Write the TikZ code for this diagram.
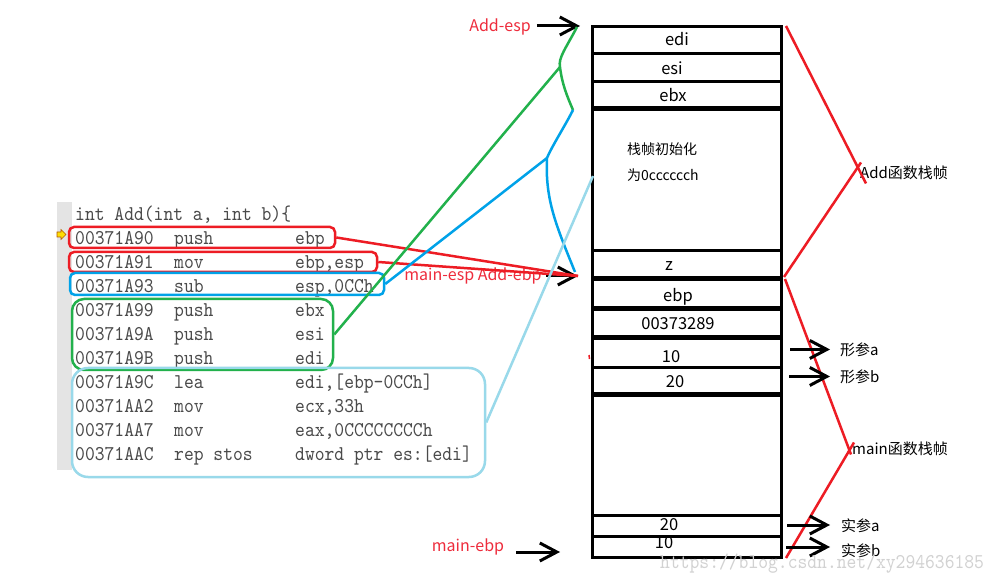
\documentclass[tikz,border=0pt]{standalone}
\usepackage{fontspec}
\newfontfamily\cjk{Noto Sans CJK SC}
\newfontfamily\codefont[Extension=.otf,FakeStretch=0.89]{lmmono10-regular}
\usetikzlibrary{arrows.meta}
\definecolor{myred}{HTML}{ED1C24}
\definecolor{annred}{HTML}{EE2C3C}
\definecolor{mygreen}{HTML}{22B14C}
\definecolor{myblue}{HTML}{00A2E8}
\definecolor{lblue}{HTML}{99D9EA}
\definecolor{codegray}{HTML}{4A4A4A}
\definecolor{bargray}{HTML}{E4E4E4}
\tikzset{
  codetxt/.style={font=\codefont\fontsize{21}{21}\selectfont, text=codegray, anchor=base west, inner sep=0pt},
  stk/.style={font=\cjk\fontsize{16.5}{16.5}\selectfont, anchor=mid, inner sep=0pt},
  lbl/.style={font=\cjk\fontsize{15}{15}\selectfont, anchor=mid west, inner sep=0pt},
  ann/.style={font=\cjk\fontsize{16}{16}\selectfont, text=annred, anchor=mid, inner sep=0pt},
  cell/.style={draw, line width=3pt, inner sep=0pt, minimum width=189pt, anchor=north west},
  hbox/.style={draw, line width=2.5pt, rounded corners=5pt, inner sep=0pt},
  barrow/.style={draw, line width=3pt, -{Straight Barb[length=17pt,width=18pt]}},
  redline/.style={draw=myred, line width=2.5pt},
}
\begin{document}
\begin{tikzpicture}[x=1pt,y=-1pt]
\useasboundingbox[fill=white] (0,0) rectangle (999,585);

% gutter bar and marker
\fill[bargray] (57,202) rectangle (72,470);
\fill[yellow!80!orange, draw=orange!70!black, line width=0.6pt]
  (57,232) -- (61,232) -- (61,229.5) -- (66,234.5) -- (61,239.5) -- (61,237) -- (57,237) -- cycle;

% code listing
\node[codetxt] (hdr) at (75,220.4) {int Add(int a, int b)\{};
\foreach \i/\yy/\a/\m/\o in {
 1/238/00371A90/push/ebp,
 2/262/00371A91/mov/{ebp,esp},
 3/286/00371A93/sub/{esp,0CCh},
 4/310/00371A99/push/ebx,
 5/334/00371A9A/push/esi,
 6/358/00371A9B/push/edi,
 7/382/00371A9C/lea/{edi,[ebp-0CCh]},
 8/406/00371AA2/mov/{ecx,33h},
 9/430/00371AA7/mov/{eax,0CCCCCCCCh},
 10/454/00371AAC/rep stos/{dword ptr es:[edi]}} {
  \node[codetxt] (ad\i) at (75,\yy+6.4) {\a};
  \node[codetxt] (mn\i) at (174,\yy+6.4) {\m};
  \node[codetxt] (op\i) at (295,\yy+6.4) {\o};
}

% highlight boxes
\node[hbox, draw=myred, minimum width=266pt, minimum height=21pt] (b1) at (202,237.5) {};
\node[hbox, draw=myred, minimum width=308pt, minimum height=20pt] (b2) at (223,262) {};
\node[hbox, draw=myblue, minimum width=314pt, minimum height=22pt] (b3) at (227,284) {};
\node[hbox, draw=mygreen, rounded corners=12pt, minimum width=261pt, minimum height=71pt] (b4) at (202.5,334.5) {};
\node[hbox, draw=lblue, rounded corners=16pt, minimum width=413pt, minimum height=109pt] (b5) at (278.5,422.5) {};

% stack
\node[cell, minimum height=27pt] (c1) at (591,25) {};
\node[cell, minimum height=28pt] (c2) at (591,52) {};
\node[cell, minimum height=28pt] (c3) at (591,80) {};
\node[cell, minimum height=141pt] (c4) at (591,108) {};
\node[cell, minimum height=29pt] (c5) at (591,249) {};
\node[cell, minimum height=30pt] (c6) at (591,278) {};
\node[cell, minimum height=29pt] (c7) at (591,308) {};
\node[cell, minimum height=29pt] (c8) at (591,337) {};
\node[cell, minimum height=28pt] (c9) at (591,366) {};
\node[cell, minimum height=120pt] (c10) at (591,394) {};
\node[cell, minimum height=21pt] (c11) at (591,514) {};
\node[cell, minimum height=21pt] (c12) at (591,535) {};
\foreach \c in {c4,c6,c7,c8,c10}{
  \draw[line width=4.5pt] (\c.north west) -- (\c.north east);
}

\node[stk] (t1) at (677,43) {edi};
\node[stk] (t2) at (672,72) {esi};
\node[stk] (t3) at (673,99) {ebx};
\node[font=\cjk\fontsize{14}{14}\selectfont, anchor=mid west, inner sep=0pt] (t4a) at (627,152) {栈帧初始化};
\node[font=\cjk\fontsize{14}{14}\selectfont, anchor=mid west, inner sep=0pt] (t4b) at (627,178) {为0cccccch};
\node[stk] (t5) at (669,268) {z};
\node[stk] (t6) at (678,299) {ebp};
\node[stk] (t7) at (678,327) {00373289};
\node[stk] (t8) at (671,360) {10};
\node[stk] (t9) at (675,385) {20};
\node[stk] (t11) at (669,528) {20};
\node[stk] (t12) at (664,546) {10};
\draw[myred, line width=1.5pt] (589,355) -- (589.5,359);

% pointer annotations
\node[ann] (aesp) at (500,29) {Add-esp};
\node[ann] (mesp) at (473,278) {main-esp Add-ebp};
\node[ann] (mebp) at (468,549) {main-ebp};
\coordinate (aespT) at (580,26);
\coordinate (mespT) at (578,276);
\coordinate (mebpT) at (560,552);
\draw[barrow] ([xshift=6pt]aesp.east |- aespT) -- (aespT);
\draw[barrow] ([xshift=4pt]mesp.east |- mespT) -- (mespT);
\draw[barrow] (mebp.east |- mebpT) ++(12,0) -- (mebpT);

% code-to-stack connectors
\draw[redline] (b1.east) -- (mespT);
\draw[redline] (b2.east) -- (mespT);
\coordinate (gtop) at (577,27);
\coordinate (gmid) at (560,67);
\coordinate (gbot) at (573,110);
\draw[mygreen, line width=2.5pt] (b4.east) -- (gmid);
\draw[mygreen, line width=2.5pt] (gtop) .. controls (566,48) and (558,58) .. (gmid) .. controls (562,84) and (567,96) .. (gbot);
\coordinate (bmid) at (547,158);
\coordinate (bbot) at (575,272);
\draw[myblue, line width=2.5pt] (b3.east) -- (bmid);
\draw[myblue, line width=2.5pt] (gbot) .. controls (565,126) and (552,146) .. (bmid) .. controls (545,200) and (556,225) .. (bbot);
\coordinate (lbtop) at (593,176);
\draw[lblue, line width=2.5pt] (b5.east) -- (lbtop);

% frame brackets
\node[lbl] (addf) at (860,176) {Add函数栈帧};
\draw[redline] (786,26) -- ([shift={(6pt,-11pt)}]addf.west);
\draw[redline] ([shift={(1pt,10pt)}]addf.west) -- (784,277);
\node[lbl] (mainf) at (852,452) {main函数栈帧};
\draw[redline] (785,279) -- ([shift={(-1pt,-6pt)}]mainf.west);
\draw[redline] ([shift={(2pt,6pt)}]mainf.west) -- (786,558);

% parameter labels
\node[lbl] (fa) at (840,353) {形参a};
\node[lbl] (fb) at (840,380) {形参b};
\node[lbl] (sa) at (841,529) {实参a};
\node[lbl] (sb) at (841,554) {实参b};
\draw[barrow] ([xshift=7pt]c8.east |- fa.west) -- ([xshift=-10pt]fa.west);
\draw[barrow] ([xshift=6pt]c9.east |- fb.west) -- ([xshift=-10pt]fb.west);
\draw[barrow] (787,525) -- (830,525);
\draw[barrow] (786,547) -- (830,547);

% watermark
\node[codetxt, text=gray!35, anchor=mid west] (wm) at (660,566) {https://blog.csdn.net/xy294636185};
\end{tikzpicture}
\end{document}
